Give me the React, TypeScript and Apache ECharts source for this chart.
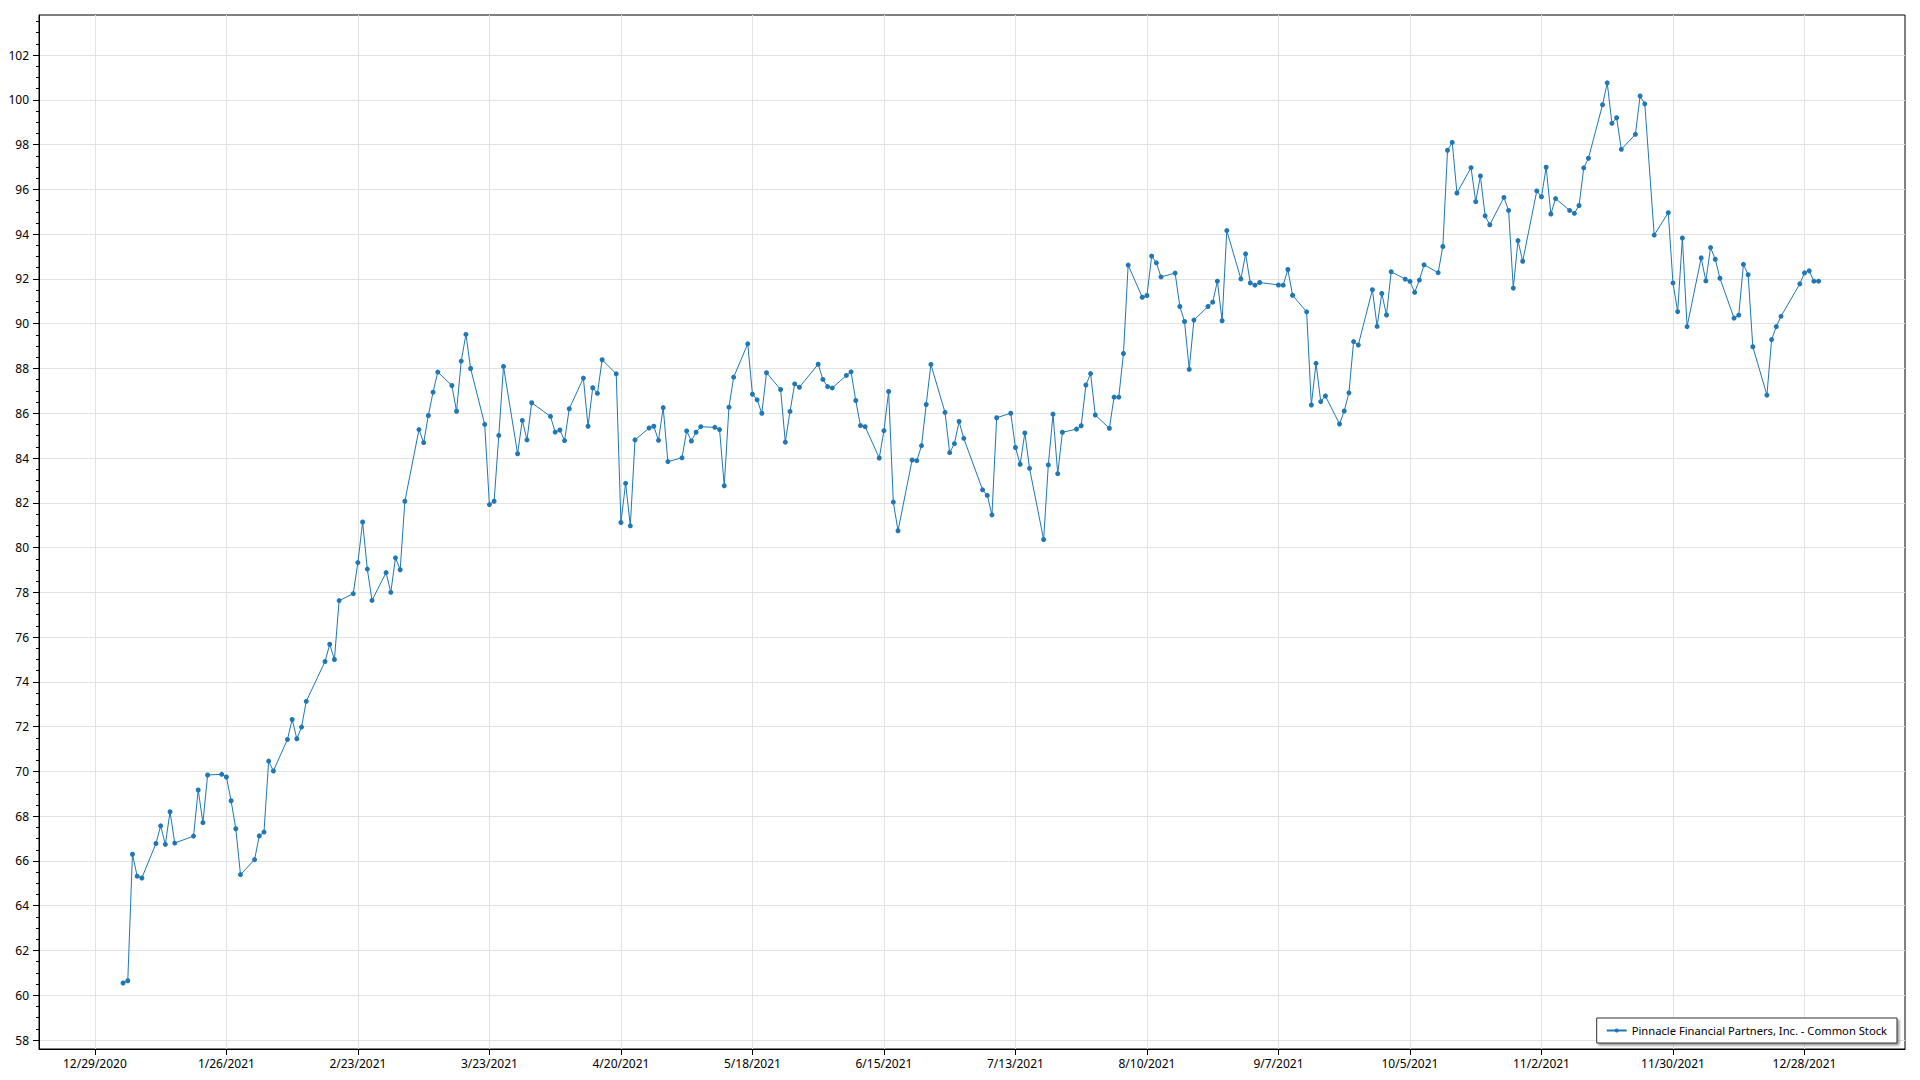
import React, { useEffect, useRef } from "react";
import * as echarts from "echarts";

const SERIES_NAME = "Pinnacle Financial Partners, Inc. - Common Stock";
const YEAR = 2021;

// trading dates (M/D, 2021)
const dates = [
  "1/4","1/5","1/6","1/7","1/8","1/11","1/12","1/13","1/14","1/15","1/19","1/20","1/21","1/22","1/25","1/26","1/27","1/28","1/29",
  "2/1","2/2","2/3","2/4","2/5","2/8","2/9","2/10","2/11","2/12","2/16","2/17","2/18","2/19","2/22","2/23","2/24","2/25","2/26",
  "3/1","3/2","3/3","3/4","3/5","3/8","3/9","3/10","3/11","3/12","3/15","3/16","3/17","3/18","3/19","3/22","3/23","3/24","3/25","3/26","3/29","3/30","3/31",
  "4/1","4/5","4/6","4/7","4/8","4/9","4/12","4/13","4/14","4/15","4/16","4/19","4/20","4/21","4/22","4/23","4/26","4/27","4/28","4/29","4/30",
  "5/3","5/4","5/5","5/6","5/7","5/10","5/11","5/12","5/13","5/14","5/17","5/18","5/19","5/20","5/21","5/24","5/25","5/26","5/27","5/28",
  "6/1","6/2","6/3","6/4","6/7","6/8","6/9","6/10","6/11","6/14","6/15","6/16","6/17","6/18","6/21","6/22","6/23","6/24","6/25","6/28","6/29","6/30",
  "7/1","7/2","7/6","7/7","7/8","7/9","7/12","7/13","7/14","7/15","7/16","7/19","7/20","7/21","7/22","7/23","7/26","7/27","7/28","7/29","7/30",
  "8/2","8/3","8/4","8/5","8/6","8/9","8/10","8/11","8/12","8/13","8/16","8/17","8/18","8/19","8/20","8/23","8/24","8/25","8/26","8/27","8/30","8/31",
  "9/1","9/2","9/3","9/7","9/8","9/9","9/10","9/13","9/14","9/15","9/16","9/17","9/20","9/21","9/22","9/23","9/24","9/27","9/28","9/29","9/30",
  "10/1","10/4","10/5","10/6","10/7","10/8","10/11","10/12","10/13","10/14","10/15","10/18","10/19","10/20","10/21","10/22","10/25","10/26","10/27","10/28","10/29",
  "11/1","11/2","11/3","11/4","11/5","11/8","11/9","11/10","11/11","11/12","11/15","11/16","11/17","11/18","11/19","11/22","11/23","11/24","11/26","11/29","11/30",
  "12/1","12/2","12/3","12/6","12/7","12/8","12/9","12/10","12/13","12/14","12/15","12/16","12/17","12/20","12/21","12/22","12/23","12/27","12/28","12/29","12/30","12/31",
];

// closing prices, same order as dates
const closes = [
  60.55,60.65,66.30,65.32,65.24,66.78,67.57,66.74,68.20,66.80,67.11,69.17,67.71,69.84,69.87,69.75,68.69,67.44,65.39,
  66.06,67.12,67.29,70.46,70.02,71.43,72.32,71.46,71.98,73.13,74.91,75.68,75.00,77.63,77.94,79.33,81.14,79.04,77.64,
  78.88,78.00,79.54,79.01,82.07,85.27,84.69,85.90,86.94,87.84,87.24,86.09,88.33,89.52,88.00,85.50,81.92,82.07,85.01,88.09,84.19,85.68,84.81,
  86.47,85.86,85.16,85.25,84.78,86.20,87.57,85.42,87.14,86.89,88.39,87.76,81.12,82.87,80.97,84.81,85.34,85.42,84.79,86.25,83.84,
  84.01,85.21,84.76,85.15,85.40,85.37,85.27,82.76,86.27,87.61,89.10,86.85,86.60,86.00,87.81,87.06,84.71,86.08,87.31,87.16,
  88.19,87.51,87.19,87.13,87.69,87.85,86.57,85.45,85.40,84.00,85.22,86.97,82.03,80.75,83.91,83.88,84.55,86.39,88.18,86.04,84.24,84.64,
  85.63,84.88,82.58,82.33,81.46,85.80,86.00,84.47,83.72,85.12,83.54,80.36,83.69,85.96,83.30,85.15,85.29,85.44,87.26,87.77,85.92,
  85.33,86.72,86.72,88.67,92.62,91.18,91.26,93.02,92.72,92.09,92.26,90.77,90.10,87.96,90.16,90.77,90.96,91.90,90.13,94.16,92.00,93.12,
  91.82,91.72,91.84,91.73,91.72,92.42,91.27,90.53,86.37,88.23,86.52,86.77,85.52,86.10,86.91,89.20,89.05,91.52,89.88,91.35,90.39,
  92.32,91.99,91.89,91.40,91.95,92.63,92.28,93.45,97.75,98.10,95.84,96.97,95.45,96.60,94.82,94.42,95.64,95.06,91.59,93.71,92.79,
  95.93,95.67,96.99,94.90,95.59,95.06,94.93,95.28,96.96,97.39,99.78,100.76,98.95,99.20,97.79,98.46,100.17,99.82,93.96,94.96,91.82,
  90.54,93.83,89.87,92.94,91.91,93.40,92.88,92.03,90.25,90.38,92.65,92.19,88.97,86.81,89.29,89.87,90.33,91.78,92.27,92.36,91.90,91.90,
];

const xTickLabels = [
  "12/29/2020","1/26/2021","2/23/2021","3/23/2021","4/20/2021","5/18/2021","6/15/2021",
  "7/13/2021","8/10/2021","9/7/2021","10/5/2021","11/2/2021","11/30/2021","12/28/2021",
];
const yTickValues = [58,60,62,64,66,68,70,72,74,76,78,80,82,84,86,88,90,92,94,96,98,100,102];

const DAY_MS = 86400000;
const ORIGIN = Date.UTC(2020, 11, 29);
const toDay = (m: number, d: number, y: number) => (Date.UTC(y, m - 1, d) - ORIGIN) / DAY_MS;
const parseFull = (s: string) => {
  const [m, d, y] = s.split("/").map(Number);
  return toDay(m, d, y);
};
const dayToLabel = (v: number) => {
  const dt = new Date(ORIGIN + Math.round(v) * DAY_MS);
  return `${dt.getUTCMonth() + 1}/${dt.getUTCDate()}/${dt.getUTCFullYear()}`;
};

const FONT = "'Segoe UI', 'Noto Sans', 'Open Sans', sans-serif";

export default function App() {
  const ref = useRef<HTMLDivElement>(null);
  useEffect(() => {
    if (!ref.current) return;
    const chart = echarts.init(ref.current, undefined, { renderer: "svg" });

    const seriesData = dates.map((s, i) => {
      const [m, d] = s.split("/").map(Number);
      return [toDay(m, d, YEAR), closes[i]];
    });
    const xTicks = xTickLabels.map(parseFull);

    const xMin = -11.9;
    const xMax = 385.4;
    const yMin = 57.6;
    const yMax = 103.79;

    const yMinor: number[] = [];
    for (let v = 58; v <= 103.5; v += 0.5) yMinor.push(v);

    chart.setOption({
      animation: false,
      backgroundColor: "#ffffff",
      grid: {
        left: 39,
        top: 15,
        right: 15,
        bottom: 31,
        show: true,
        borderColor: "#000000",
        borderWidth: 1,
        backgroundColor: "transparent",
      },
      legend: {
        show: true,
        right: 23,
        bottom: 37,
        orient: "horizontal",
        backgroundColor: "#ffffff",
        borderColor: "#333333",
        borderWidth: 1,
        borderRadius: 0,
        padding: [7, 10, 7, 9],
        itemWidth: 20,
        itemHeight: 5,
        itemGap: 6,
        shadowColor: "rgba(0,0,0,0.4)",
        shadowBlur: 2,
        shadowOffsetX: 2,
        shadowOffsetY: 2,
        textStyle: { color: "#000000", fontSize: 11.2, fontFamily: FONT },
        data: [SERIES_NAME],
      },
      xAxis: [
        {
          type: "value",
          min: xMin,
          max: xMax,
          axisLine: { show: true, onZero: false, lineStyle: { color: "#000000", width: 1 } },
          axisTick: { show: true, length: 6, customValues: xTicks, lineStyle: { color: "#000000" } },
          axisLabel: {
            show: true,
            customValues: xTicks,
            formatter: (v: number) => dayToLabel(v),
            color: "#000000",
            fontSize: 12,
            fontFamily: FONT,
            margin: 8,
          },
          splitLine: { show: true, lineStyle: { color: "#e3e3e3", width: 1 } },
        },
      ],
      yAxis: [
        {
          type: "value",
          min: yMin,
          max: yMax,
          axisLine: { show: true, onZero: false, lineStyle: { color: "#000000", width: 1 } },
          axisTick: { show: true, length: 6, customValues: yTickValues, lineStyle: { color: "#000000" } },
          axisLabel: {
            show: true,
            customValues: yTickValues,
            formatter: (v: number) => String(v),
            color: "#000000",
            fontSize: 12,
            fontFamily: FONT,
            margin: 10,
          },
          splitLine: { show: true, lineStyle: { color: "#e3e3e3", width: 1 } },
        },
        {
          type: "value",
          position: "left",
          min: yMin,
          max: yMax,
          axisLine: { show: false, onZero: false },
          axisTick: { show: true, length: 3, customValues: yMinor, lineStyle: { color: "#000000" } },
          axisLabel: { show: false },
          splitLine: { show: false },
        },
      ],
      series: [
        {
          name: SERIES_NAME,
          type: "line",
          xAxisIndex: 0,
          yAxisIndex: 0,
          data: seriesData,
          symbol: "circle",
          symbolSize: 5,
          showSymbol: true,
          showAllSymbol: true,
          color: "#1f77b4",
          itemStyle: { color: "#1f77b4" },
          lineStyle: { color: "#1f77b4", width: 1 },
          emphasis: { disabled: true },
        },
      ],
    });
    return () => chart.dispose();
  }, []);

  return (
    <div
      ref={ref}
      style={{ position: "absolute", left: 0, top: 0, width: 1920, height: 1080, background: "#fff" }}
    />
  );
}
